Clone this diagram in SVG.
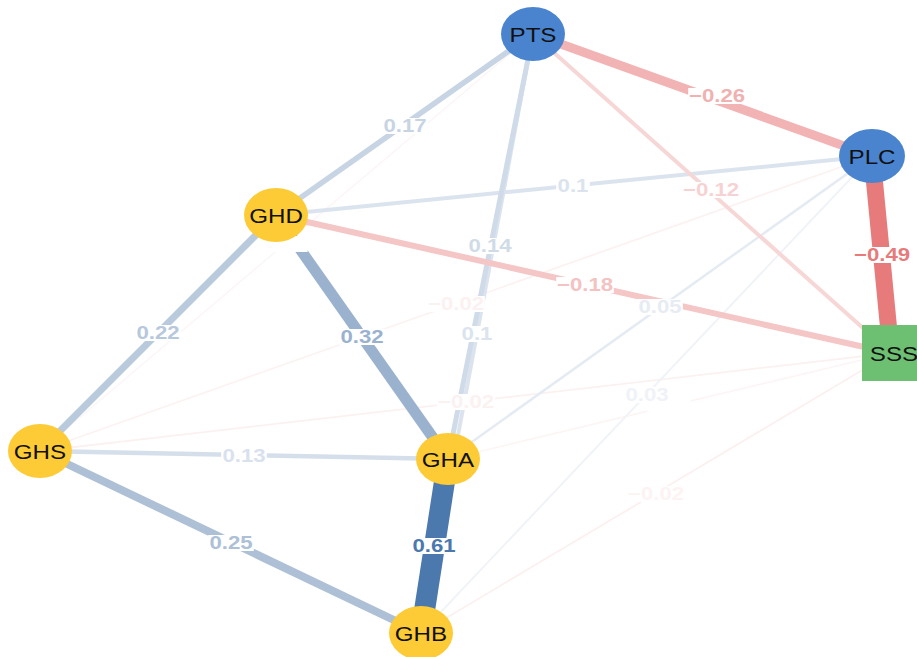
<svg xmlns="http://www.w3.org/2000/svg" width="917" height="657" viewBox="0 0 917 657">
  <style>
    .e { fill: none; stroke-linecap: butt; }
    .lbl rect { fill: #ffffff; }
    .lbl text { font-family: "Liberation Sans", Arial, sans-serif; font-size: 18.5px; font-weight: bold; text-anchor: middle; dominant-baseline: central; }
    .node ellipse.y { fill: #fccb36; }
    .node ellipse.b { fill: #4a84cf; }
    .node rect { fill: #6dbf71; }
    .node text { font-family: "Liberation Sans", Arial, sans-serif; font-size: 21px; fill: #111111; text-anchor: middle; dominant-baseline: central; }
  </style>

  <!-- edges, weakest first so strong ones sit on top -->
  <g id="edges">
    <line class="e" x1="448" y1="459" x2="891" y2="353" stroke="#fdf5f5" stroke-width="1.5"/>
    <line class="e" x1="533" y1="34" x2="40" y2="451" stroke="#fcf6f6" stroke-width="1.5"/>
    <line class="e" x1="421" y1="633" x2="891" y2="353" stroke="#fcf0f0" stroke-width="1.8"/>
    <line class="e" x1="872" y1="156" x2="40" y2="451" stroke="#fcf2f2" stroke-width="1.8"/>
    <line class="e" x1="40" y1="451" x2="891" y2="353" stroke="#fcf1f1" stroke-width="1.8"/>
    <line class="e" x1="872" y1="156" x2="421" y2="633" stroke="#f0f3f7" stroke-width="2"/>
    <line class="e" x1="872" y1="156" x2="448" y2="459" stroke="#e5ebf3" stroke-width="2.5"/>
    <line class="e" x1="276" y1="215" x2="872" y2="156" stroke="#dbe4ee" stroke-width="4"/>
    <line class="e" x1="533" y1="34" x2="421" y2="633" stroke="#dbe4ee" stroke-width="4"/>
    <line class="e" x1="533" y1="34" x2="891" y2="353" stroke="#f7d6d6" stroke-width="4"/>
    <line class="e" x1="40" y1="451" x2="448" y2="459" stroke="#d5dfeb" stroke-width="4.5"/>
    <line class="e" x1="533" y1="34" x2="448" y2="459" stroke="#cfdbe8" stroke-width="5"/>
    <line class="e" x1="533" y1="34" x2="276" y2="215" stroke="#c6d4e4" stroke-width="5.5"/>
    <line class="e" x1="276" y1="215" x2="891" y2="353" stroke="#f4c6c6" stroke-width="6"/>
    <line class="e" x1="276" y1="215" x2="40" y2="451" stroke="#b9cadd" stroke-width="7"/>
    <line class="e" x1="40" y1="451" x2="421" y2="633" stroke="#adc0d6" stroke-width="8"/>
    <line class="e" x1="533" y1="34" x2="872" y2="156" stroke="#f1b3b3" stroke-width="9"/>
    <line class="e" x1="276" y1="215" x2="448" y2="459" stroke="#9bb2cf" stroke-width="11"/>
    <line class="e" x1="872" y1="156" x2="891" y2="353" stroke="#e77b7b" stroke-width="17"/>
    <line class="e" x1="448" y1="459" x2="421" y2="633" stroke="#4b78ad" stroke-width="21"/>
  </g>

  <!-- edge weight labels -->
  <g id="labels">
    <g class="lbl" transform="translate(669 406) scale(1.2 1)"><rect x="-18" y="-8" width="36" height="16"/></g>
    <g class="lbl" transform="translate(286 244) scale(1.2 1)"><rect x="-18" y="-8" width="36" height="16"/></g>
    <g class="lbl" transform="translate(656 494) scale(1.2 1)"><rect x="-24" y="-8" width="48" height="16"/><text fill="#fdf3f3">−0.02</text></g>
    <g class="lbl" transform="translate(456 304) scale(1.2 1)"><rect x="-24" y="-8" width="48" height="16"/><text fill="#fcf1f1">−0.02</text></g>
    <g class="lbl" transform="translate(466 402) scale(1.2 1)"><rect x="-24" y="-8" width="48" height="16"/><text fill="#fcf1f1">−0.02</text></g>
    <g class="lbl" transform="translate(647 395) scale(1.2 1)"><rect x="-19" y="-8" width="38" height="16"/><text fill="#eff2f7">0.03</text></g>
    <g class="lbl" transform="translate(660 307) scale(1.2 1)"><rect x="-19" y="-8" width="38" height="16"/><text fill="#e7ecf3">0.05</text></g>
    <g class="lbl" transform="translate(573 186) scale(1.2 1)"><rect x="-14" y="-8" width="28" height="16"/><text fill="#dbe4ee">0.1</text></g>
    <g class="lbl" transform="translate(477 334) scale(1.2 1)"><rect x="-14" y="-8" width="28" height="16"/><text fill="#dbe4ee">0.1</text></g>
    <g class="lbl" transform="translate(711 190) scale(1.2 1)"><rect x="-24" y="-8" width="48" height="16"/><text fill="#f6d2d2">−0.12</text></g>
    <g class="lbl" transform="translate(244 456) scale(1.2 1)"><rect x="-19" y="-8" width="38" height="16"/><text fill="#d8e1ed">0.13</text></g>
    <g class="lbl" transform="translate(490 246) scale(1.2 1)"><rect x="-19" y="-8" width="38" height="16"/><text fill="#d0dbe8">0.14</text></g>
    <g class="lbl" transform="translate(405 126) scale(1.2 1)"><rect x="-19" y="-8" width="38" height="16"/><text fill="#c6d4e4">0.17</text></g>
    <g class="lbl" transform="translate(585 285) scale(1.2 1)"><rect x="-24" y="-8" width="48" height="16"/><text fill="#f3c2c2">−0.18</text></g>
    <g class="lbl" transform="translate(158 333) scale(1.2 1)"><rect x="-19" y="-8" width="38" height="16"/><text fill="#b7c8dc">0.22</text></g>
    <g class="lbl" transform="translate(231 543) scale(1.2 1)"><rect x="-19" y="-8" width="38" height="16"/><text fill="#adc0d6">0.25</text></g>
    <g class="lbl" transform="translate(717 96) scale(1.2 1)"><rect x="-24" y="-8" width="48" height="16"/><text fill="#f0b1b1">−0.26</text></g>
    <g class="lbl" transform="translate(362 337) scale(1.2 1)"><rect x="-19" y="-8" width="38" height="16"/><text fill="#9bb2cf">0.32</text></g>
    <g class="lbl" transform="translate(882 255) scale(1.2 1)"><rect x="-24" y="-8" width="48" height="16"/><text fill="#e77b7b">−0.49</text></g>
    <g class="lbl" transform="translate(434 546) scale(1.2 1)"><rect x="-19" y="-8" width="38" height="16"/><text fill="#4b78ad">0.61</text></g>
  </g>

  <!-- nodes -->
  <g id="PTS" class="node"><ellipse class="b" cx="533" cy="34" rx="32" ry="27"/><text transform="translate(533 35) scale(1.15 1)">PTS</text></g>
  <g id="PLC" class="node"><ellipse class="b" cx="872" cy="156" rx="33" ry="27"/><text transform="translate(872 157) scale(1.15 1)">PLC</text></g>
  <g id="GHD" class="node"><ellipse class="y" cx="276" cy="215" rx="32" ry="27"/><text transform="translate(276 216) scale(1.15 1)">GHD</text></g>
  <g id="GHS" class="node"><ellipse class="y" cx="40" cy="451" rx="32" ry="27"/><text transform="translate(40 452) scale(1.15 1)">GHS</text></g>
  <g id="GHA" class="node"><ellipse class="y" cx="448" cy="459" rx="32" ry="26"/><text transform="translate(448 460) scale(1.15 1)">GHA</text></g>
  <g id="GHB" class="node"><ellipse class="y" cx="421" cy="633" rx="32" ry="27"/><text transform="translate(421 634) scale(1.15 1)">GHB</text></g>
  <g id="SSS" class="node"><rect x="862" y="325" width="58" height="56"/><text transform="translate(894 354) scale(1.15 1)">SSS</text></g>
</svg>
